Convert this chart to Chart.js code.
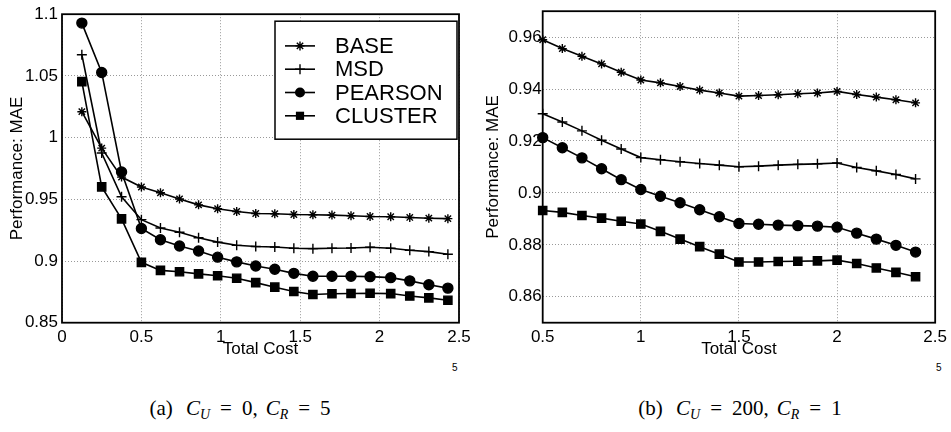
<!DOCTYPE html>
<html>
<head>
<meta charset="utf-8">
<script src="https://cdn.jsdelivr.net/npm/chart.js@4.4.0/dist/chart.umd.min.js"></script>
<style>
  body { margin: 0; background: #fff; width: 951px; height: 432px; position: relative; overflow: hidden;
         font-family: "Liberation Sans", Arial, sans-serif; }
  .box { position: absolute; top: 0; }
  #boxA { left: 0; width: 476px; height: 360px; }
  #boxB { left: 476px; width: 475px; height: 360px; }
  .exp { position: absolute; top: 362px; font-size: 10px; }
  .cap { position: absolute; top: 396px; width: 360px; text-align: center;
         font-family: "Liberation Serif", "DejaVu Serif", serif; font-size: 21px; white-space: nowrap; }
  .cap sub { font-size: 14px; font-style: italic; vertical-align: -4px; line-height: 0; }
  .cap .eq { padding: 0 10px; }
  .cap .gap { padding-left: 8px; }
</style>
</head>
<body>
<div class="box" id="boxA"><canvas id="chartA" width="476" height="360"></canvas></div>
<div class="box" id="boxB"><canvas id="chartB" width="475" height="360"></canvas></div>
<span class="exp" style="left:452px">5</span>
<span class="exp" style="left:936px">5</span>
<div class="cap" style="left:60px">(a)<span class="gap"></span> <i>C</i><sub>U</sub><span class="eq">=</span>0,<span class="gap"></span><i>C</i><sub>R</sub><span class="eq">=</span>5</div>
<div class="cap" style="left:560px">(b)<span class="gap"></span> <i>C</i><sub>U</sub><span class="eq">=</span>200,<span class="gap"></span><i>C</i><sub>R</sub><span class="eq">=</span>1</div>

<script>
// Series names + marker styles
const names = ['BASE', 'MSD', 'PEARSON', 'CLUSTER'];
const markers = ['star', 'cross', 'circle', 'rect'];
const markerSize = [4.5, 5, 5, 5.8];

// (a) C_U = 0, C_R = 5   -- total cost in units of 1e5
const costA = [0.125, 0.25, 0.375, 0.5, 0.62, 0.74, 0.86, 0.98, 1.1, 1.22, 1.34, 1.46, 1.58, 1.7, 1.82, 1.94, 2.07, 2.19, 2.31, 2.43];
const baseA = [1.021, 0.9915, 0.968, 0.960, 0.9553, 0.9503, 0.9455, 0.9423, 0.9401, 0.9385, 0.9383, 0.9377, 0.9375, 0.9372, 0.9367, 0.9361, 0.9359, 0.9353, 0.9347, 0.9343];
const msdA = [1.0672, 0.9875, 0.9521, 0.9335, 0.9267, 0.9233, 0.9188, 0.9153, 0.9127, 0.9117, 0.9113, 0.9103, 0.9100, 0.9103, 0.9105, 0.9111, 0.9103, 0.9087, 0.9076, 0.9055];
const pearsonA = [1.0928, 1.0528, 0.9721, 0.9263, 0.9172, 0.9121, 0.9081, 0.9031, 0.8993, 0.8960, 0.8933, 0.8900, 0.8877, 0.8877, 0.8876, 0.8873, 0.8865, 0.8839, 0.8808, 0.8780];
const clusterA = [1.0454, 0.9601, 0.9341, 0.8989, 0.8924, 0.8913, 0.8896, 0.8881, 0.8860, 0.8825, 0.8788, 0.8753, 0.8729, 0.8735, 0.8737, 0.8739, 0.8736, 0.8716, 0.8701, 0.8682];
const xTicksA = [0, 0.5, 1, 1.5, 2, 2.5];
const yTicksA = [0.85, 0.9, 0.95, 1, 1.05, 1.1];

// (b) C_U = 200, C_R = 1
const costB = [0.5, 0.6, 0.7, 0.8, 0.9, 1.0, 1.1, 1.2, 1.3, 1.4, 1.5, 1.6, 1.7, 1.8, 1.9, 2.0, 2.1, 2.2, 2.3, 2.4];
const baseB = [0.9590, 0.9556, 0.9526, 0.9497, 0.9465, 0.9435, 0.9424, 0.9410, 0.9396, 0.9385, 0.9373, 0.9375, 0.9378, 0.9382, 0.9385, 0.9391, 0.9379, 0.9369, 0.9359, 0.9347];
const msdB = [0.9305, 0.9273, 0.9239, 0.9203, 0.9169, 0.9136, 0.9128, 0.9120, 0.9113, 0.9107, 0.9101, 0.9103, 0.9107, 0.9110, 0.9112, 0.9115, 0.9098, 0.9085, 0.9071, 0.9054];
const pearsonB = [0.9213, 0.9174, 0.9135, 0.9093, 0.9051, 0.9013, 0.8987, 0.8962, 0.8935, 0.8908, 0.8882, 0.8879, 0.8876, 0.8874, 0.8872, 0.8868, 0.8845, 0.8822, 0.8798, 0.8772];
const clusterB = [0.8932, 0.8925, 0.8913, 0.8903, 0.8891, 0.8880, 0.8852, 0.8822, 0.8793, 0.8764, 0.8734, 0.8734, 0.8736, 0.8737, 0.8738, 0.8741, 0.8728, 0.8711, 0.8694, 0.8677];
const xTicksB = [0.5, 1, 1.5, 2, 2.5];
const yTicksB = [0.86, 0.88, 0.9, 0.92, 0.94, 0.96];

Chart.defaults.font.family = '"Liberation Sans", Arial, sans-serif';
Chart.defaults.color = '#000';

function toPoints(xs, ys) {
  return xs.map((x, i) => ({ x: x, y: ys[i] }));
}

// small marker painter for the legend
function drawMarker(ctx, style, x, y, r) {
  ctx.beginPath();
  if (style === 'circle') {
    ctx.arc(x, y, r, 0, Math.PI * 2);
    ctx.fill();
  } else if (style === 'rect') {
    const s = r * Math.SQRT1_2;
    ctx.fillRect(x - s, y - s, 2 * s, 2 * s);
  } else {
    ctx.moveTo(x - r, y); ctx.lineTo(x + r, y);
    ctx.moveTo(x, y - r); ctx.lineTo(x, y + r);
    if (style === 'star') {
      const d = r * Math.SQRT1_2;
      ctx.moveTo(x - d, y - d); ctx.lineTo(x + d, y + d);
      ctx.moveTo(x - d, y + d); ctx.lineTo(x + d, y - d);
    }
    ctx.stroke();
  }
}

// solid box round the plot area
const framePlugin = {
  id: 'frame',
  beforeDatasetsDraw(chart) {
    const a = chart.chartArea, ctx = chart.ctx;
    ctx.save();
    ctx.strokeStyle = '#000';
    ctx.lineWidth = 1.8;
    ctx.strokeRect(a.left, a.top, a.right - a.left, a.bottom - a.top);
    ctx.restore();
  }
};

// matlab style boxed legend, top right inside the axes
const boxLegendPlugin = {
  id: 'boxLegend',
  afterDatasetsDraw(chart, args, opts) {
    if (!opts.show) return;
    const a = chart.chartArea, ctx = chart.ctx;
    const left = a.left + 213, top = a.top + 7, w = 182, h = 118;
    ctx.save();
    ctx.fillStyle = '#fff';
    ctx.fillRect(left, top, w, h);
    ctx.strokeStyle = '#000';
    ctx.lineWidth = 1.5;
    ctx.strokeRect(left, top, w, h);
    ctx.font = '22px "Liberation Sans", Arial, sans-serif';
    ctx.textBaseline = 'middle';
    chart.data.datasets.forEach((ds, i) => {
      const y = top + 24.7 + i * 23.3;
      ctx.strokeStyle = '#000';
      ctx.fillStyle = '#000';
      ctx.lineWidth = 1.6;
      ctx.beginPath();
      ctx.moveTo(left + 10, y);
      ctx.lineTo(left + 40, y);
      ctx.stroke();
      ctx.lineWidth = 1.4;
      drawMarker(ctx, ds.pointStyle, left + 25, y, ds.pointRadius);
      ctx.fillText(ds.label, left + 60, y + 1);
    });
    ctx.restore();
  }
};

function makeChart(id, xs, series, cfg) {
  return new Chart(document.getElementById(id), {
    type: 'line',
    data: {
      datasets: series.map((ys, i) => ({
        label: names[i],
        data: toPoints(xs, ys),
        borderColor: '#000',
        backgroundColor: '#000',
        borderWidth: 1.6,
        pointStyle: markers[i],
        pointRadius: markerSize[i],
        pointBorderWidth: 1.4,
        pointBackgroundColor: '#000',
        pointBorderColor: '#000',
        tension: 0,
        clip: false
      }))
    },
    options: {
      responsive: false,
      animation: false,
      devicePixelRatio: 1,
      layout: { padding: { left: 3, top: 10, right: cfg.padRight, bottom: 0 } },
      plugins: {
        legend: { display: false },
        tooltip: { enabled: false },
        boxLegend: { show: cfg.legend }
      },
      scales: {
        x: {
          type: 'linear',
          min: cfg.xMin,
          max: cfg.xMax,
          afterBuildTicks: s => { s.ticks = cfg.xTicks.map(v => ({ value: v })); },
          afterFit: s => { s.height = 360 - 322.7; },
          grid: { color: '#999', lineWidth: 1, drawTicks: false },
          border: { display: false, dash: [1, 2] },
          ticks: { color: '#000', font: { size: 17 }, padding: 4, autoSkip: false, maxRotation: 0,
                   callback: v => String(v) },
          title: { display: true, text: 'Total Cost', color: '#000', font: { size: 17 }, padding: 0 }
        },
        y: {
          min: cfg.yMin,
          max: cfg.yMax,
          afterBuildTicks: s => { s.ticks = cfg.yTicks.map(v => ({ value: v })); },
          afterFit: s => { s.width = cfg.yWidth; },
          grid: { color: '#999', lineWidth: 1, drawTicks: false },
          border: { display: false, dash: [1, 2] },
          ticks: { color: '#000', font: { size: 17 }, padding: cfg.yPad, autoSkip: false,
                   callback: v => String(v) },
          title: { display: true, text: 'Performance: MAE', color: '#000', font: { size: 17 },
                   padding: { top: 4, bottom: 0 } }
        }
      }
    },
    plugins: [framePlugin, boxLegendPlugin]
  });
}

makeChart('chartA', costA, [baseA, msdA, pearsonA, clusterA], {
  xMin: 0, xMax: 2.5, yMin: 0.85, yMax: 1.1, xTicks: xTicksA, yTicks: yTicksA,
  yWidth: 59, yPad: 4, padRight: 17, legend: true
});

makeChart('chartB', costB, [baseB, msdB, pearsonB, clusterB], {
  xMin: 0.5, xMax: 2.5, yMin: 0.85, yMax: 0.97, xTicks: xTicksB, yTicks: yTicksB,
  yWidth: 63.7, yPad: 1, padRight: 11, legend: false
});
</script>
</body>
</html>
